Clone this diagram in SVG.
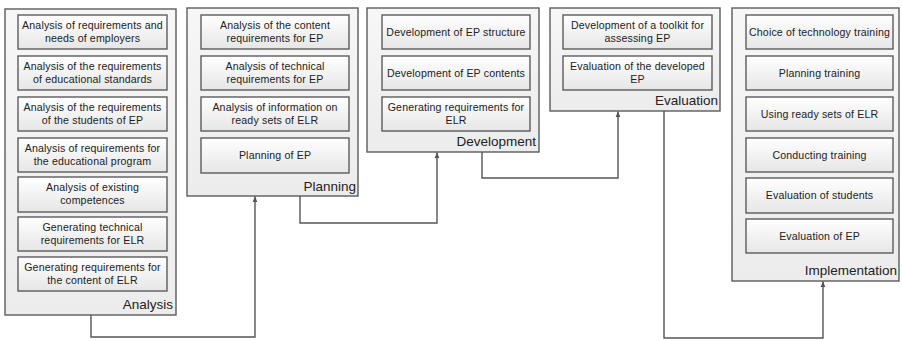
<svg xmlns="http://www.w3.org/2000/svg" width="902" height="341" viewBox="0 0 902 341">
  <defs>
    <linearGradient id="gPhase" x1="0" y1="0" x2="0" y2="1">
      <stop offset="0" stop-color="#f7f7f7"/>
      <stop offset="1" stop-color="#ececec"/>
    </linearGradient>
    <linearGradient id="gTask" x1="0" y1="0" x2="0" y2="1">
      <stop offset="0" stop-color="#ffffff"/>
      <stop offset="1" stop-color="#e6e6e6"/>
    </linearGradient>
    <marker id="arrow" viewBox="0 0 8 8" refX="7.5" refY="4" markerWidth="6" markerHeight="6" orient="auto" markerUnits="userSpaceOnUse">
      <path d="M0,0.8 L8,4 L0,7.2 Z" fill="#555"/>
    </marker>
  </defs>
  <style>
    .phase { fill: url(#gPhase); stroke: #5c5c5c; stroke-width: 1.4; }
    .task { fill: url(#gTask); stroke: #5c5c5c; stroke-width: 1.4; }
    .t { font-family: "Liberation Sans", Arial, sans-serif; font-size: 10.6px; letter-spacing: 0.15px; fill: #222; text-anchor: middle; }
    .lbl { font-family: "Liberation Sans", Arial, sans-serif; font-size: 13.5px; fill: #222; text-anchor: end; }
    .conn { fill: none; stroke: #555; stroke-width: 1.4; }
  </style>
  <rect width="902" height="341" fill="#ffffff"/>

  <!-- Analysis phase -->
  <g id="analysis">
    <rect class="phase" x="5" y="9" width="171" height="306"/>
    <rect class="task" x="18" y="15" width="149" height="34"/>
    <text class="t" x="92.5" y="29">Analysis of requirements and</text>
    <text class="t" x="92.5" y="42">needs of employers</text>
    <rect class="task" x="18" y="56" width="149" height="34"/>
    <text class="t" x="92.5" y="70">Analysis of the requirements</text>
    <text class="t" x="92.5" y="83">of educational standards</text>
    <rect class="task" x="18" y="97" width="149" height="34"/>
    <text class="t" x="92.5" y="111">Analysis of the requirements</text>
    <text class="t" x="92.5" y="124">of the students of EP</text>
    <rect class="task" x="18" y="138" width="149" height="34"/>
    <text class="t" x="92.5" y="152">Analysis of requirements for</text>
    <text class="t" x="92.5" y="165">the educational program</text>
    <rect class="task" x="18" y="177" width="149" height="35"/>
    <text class="t" x="92.5" y="191">Analysis of existing</text>
    <text class="t" x="92.5" y="204">competences</text>
    <rect class="task" x="18" y="217" width="149" height="34"/>
    <text class="t" x="92.5" y="231">Generating technical</text>
    <text class="t" x="92.5" y="244">requirements for ELR</text>
    <rect class="task" x="18" y="257" width="149" height="34"/>
    <text class="t" x="92.5" y="271">Generating requirements for</text>
    <text class="t" x="92.5" y="284">the content of ELR</text>
    <text class="lbl" x="173" y="309">Analysis</text>
  </g>

  <!-- Planning phase -->
  <g id="planning">
    <rect class="phase" x="187" y="8" width="171" height="188"/>
    <rect class="task" x="201" y="15" width="148" height="34"/>
    <text class="t" x="275" y="29">Analysis of the content</text>
    <text class="t" x="275" y="42">requirements for EP</text>
    <rect class="task" x="201" y="56" width="148" height="34"/>
    <text class="t" x="275" y="70">Analysis of technical</text>
    <text class="t" x="275" y="83">requirements for EP</text>
    <rect class="task" x="201" y="97" width="148" height="34"/>
    <text class="t" x="275" y="111">Analysis of information on</text>
    <text class="t" x="275" y="124">ready sets of ELR</text>
    <rect class="task" x="201" y="138" width="148" height="35"/>
    <text class="t" x="275" y="159">Planning of EP</text>
    <text class="lbl" x="356" y="191">Planning</text>
  </g>

  <!-- Development phase -->
  <g id="development">
    <rect class="phase" x="367" y="8" width="172" height="144"/>
    <rect class="task" x="382" y="15" width="148" height="34"/>
    <text class="t" x="456" y="36">Development of EP structure</text>
    <rect class="task" x="382" y="56" width="148" height="34"/>
    <text class="t" x="456" y="77">Development of EP contents</text>
    <rect class="task" x="382" y="97" width="148" height="34"/>
    <text class="t" x="456" y="111">Generating requirements for</text>
    <text class="t" x="456" y="124">ELR</text>
    <text class="lbl" x="536" y="146">Development</text>
  </g>

  <!-- Evaluation phase -->
  <g id="evaluation">
    <rect class="phase" x="550" y="8" width="170" height="103"/>
    <rect class="task" x="563" y="15" width="149" height="34"/>
    <text class="t" x="637.5" y="29">Development of a toolkit for</text>
    <text class="t" x="637.5" y="42">assessing EP</text>
    <rect class="task" x="563" y="56" width="149" height="34"/>
    <text class="t" x="637.5" y="70">Evaluation of the developed</text>
    <text class="t" x="637.5" y="83">EP</text>
    <text class="lbl" x="718" y="105">Evaluation</text>
  </g>

  <!-- Implementation phase -->
  <g id="implementation">
    <rect class="phase" x="732" y="8" width="167" height="273"/>
    <rect class="task" x="746" y="15" width="147" height="34"/>
    <text class="t" x="819.5" y="36">Choice of technology training</text>
    <rect class="task" x="746" y="56" width="147" height="34"/>
    <text class="t" x="819.5" y="77">Planning training</text>
    <rect class="task" x="746" y="97" width="147" height="34"/>
    <text class="t" x="819.5" y="118">Using ready sets of ELR</text>
    <rect class="task" x="746" y="138" width="147" height="34"/>
    <text class="t" x="819.5" y="159">Conducting training</text>
    <rect class="task" x="746" y="178" width="147" height="35"/>
    <text class="t" x="819.5" y="199">Evaluation of students</text>
    <rect class="task" x="746" y="219" width="147" height="34"/>
    <text class="t" x="819.5" y="240">Evaluation of EP</text>
    <text class="lbl" x="897" y="275">Implementation</text>
  </g>

  <!-- Flow between phases -->
  <g id="connectors">
    <path class="conn" d="M91,315 V337 H255 V196.5" marker-end="url(#arrow)"/>
    <path class="conn" d="M300,196 V223 H437 V152.5" marker-end="url(#arrow)"/>
    <path class="conn" d="M482,152 V178 H618 V111.5" marker-end="url(#arrow)"/>
    <path class="conn" d="M664,111 V338 H823 V281.5" marker-end="url(#arrow)"/>
  </g>
</svg>
